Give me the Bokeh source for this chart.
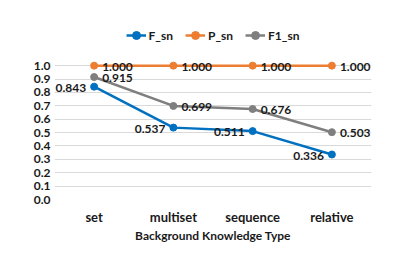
from bokeh.plotting import figure
from bokeh.models import FixedTicker, PrintfTickFormatter, Legend, LegendItem, ColumnDataSource
from bokeh.core.properties import value
from bokeh.embed import file_html
from bokeh.resources import INLINE

categories = ["set", "multiset", "sequence", "relative"]
f_sn = [0.843, 0.537, 0.511, 0.336]
p_sn = [1.000, 1.000, 1.000, 1.000]
f1_sn = [0.915, 0.699, 0.676, 0.503]
y_ticks = [0.0, 0.1, 0.2, 0.3, 0.4, 0.5, 0.6, 0.7, 0.8, 0.9, 1.0]

FONT = "Lato"
TXT = "#1a1a1a"

p = figure(width=399, height=260, x_range=categories, y_range=(0, 1.3),
           output_backend="svg", toolbar_location=None,
           min_border_left=54, min_border_right=28, min_border_top=25, min_border_bottom=61)
p.outline_line_color = None
p.background_fill_color = "white"
p.border_fill_color = "white"

p.xgrid.grid_line_color = None
p.ygrid.grid_line_color = "#d9d9d9"
p.ygrid.grid_line_width = 1

p.yaxis.ticker = FixedTicker(ticks=y_ticks)
p.yaxis.formatter = PrintfTickFormatter(format="%.1f")
for ax in (p.xaxis[0], p.yaxis[0]):
    ax.axis_line_color = None
    ax.major_tick_line_color = None
    ax.minor_tick_line_color = None
    ax.major_tick_out = 0
    ax.major_label_text_font = FONT
    ax.major_label_text_font_style = "bold"
    ax.major_label_text_font_size = "12px"
    ax.major_label_text_color = TXT
p.xaxis.major_label_text_font_size = "13px"
p.yaxis.major_label_standoff = 4
p.xaxis.major_label_standoff = 9
p.xaxis.axis_label = "Background Knowledge Type"
p.xaxis.axis_label_text_font = FONT
p.xaxis.axis_label_text_font_style = "bold"
p.xaxis.axis_label_text_font_size = "12px"
p.xaxis.axis_label_text_color = TXT
p.xaxis.axis_label_standoff = 0

series = [
    ("F_sn", f_sn, "#0070c0", "right", -8),
    ("P_sn", p_sn, "#ed7d31", "left", 8),
    ("F1_sn", f1_sn, "#7f7f7f", "left", 8),
]
items = []
for name, vals, color, align, xoff in series:
    src = ColumnDataSource(dict(x=categories, y=vals))
    l = p.line("x", "y", source=src, line_color=color, line_width=2.5)
    s = p.scatter("x", "y", source=src, size=7, fill_color=color, line_color=color)
    items.append(LegendItem(label=name, renderers=[l, s]))
for name, vals, color, align, xoff in series:
    src = ColumnDataSource(dict(x=categories, y=vals, lab=["%.3f" % v for v in vals]))
    p.text("x", "y", text="lab", source=src, text_align=align, text_baseline="middle",
           x_offset=xoff, y_offset=1, text_font=value(FONT), text_font_style="bold",
           text_font_size="12px", text_color=TXT)

legend = Legend(items=items, orientation="horizontal", location="top_center",
                margin=0, padding=3, spacing=12, glyph_width=20, label_standoff=3,
                border_line_color=None, background_fill_alpha=0,
                label_text_font=FONT, label_text_font_style="bold",
                label_text_font_size="12px", label_text_color=TXT)
p.add_layout(legend)

open("out.html", "w").write(file_html(p, INLINE))
